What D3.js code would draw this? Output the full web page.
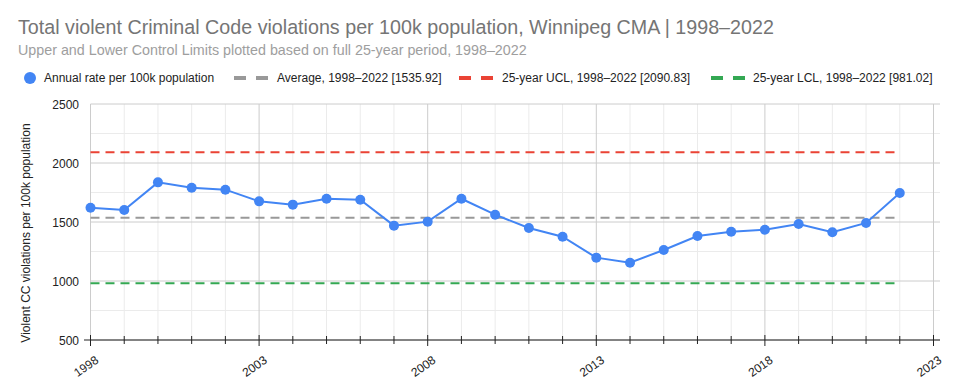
<!DOCTYPE html>
<html><head><meta charset="utf-8">
<script src="https://cdn.jsdelivr.net/npm/d3@7"></script>
<style>body{margin:0;background:#fff}svg{display:block;font-family:Arial,"Liberation Sans",sans-serif}</style>
</head><body><svg id="c" width="960" height="390"></svg>
<script>
const years = [1998,1999,2000,2001,2002,2003,2004,2005,2006,2007,2008,2009,2010,2011,2012,2013,2014,2015,2016,2017,2018,2019,2020,2021,2022];
const rates = [1621,1602,1836,1791,1774,1675,1647,1697,1689,1469,1503,1697,1562,1449,1375,1198,1155,1263,1381,1418,1435,1483,1413,1492,1746];
const average = 1535.92, ucl = 2090.83, lcl = 981.02;
const yTicks = [500,1000,1500,2000,2500];
const yMinor = [750,1250,1750,2250];
const xTickLabels = [1998,2003,2008,2013,2018,2023];
const legendLabels = ["Annual rate per 100k population","Average, 1998–2022 [1535.92]","25-year UCL, 1998–2022 [2090.83]","25-year LCL, 1998–2022 [981.02]"];

const svg = d3.select("#c");
const L = 90.5, R = 933.5, RG = 940, T = 104, B = 340;
const x = d3.scaleLinear().domain([1998,2023]).range([L,R]);
const y = d3.scaleLinear().domain([500,2500]).range([B,T]);

svg.append("text").attr("x",18).attr("y",34).attr("font-size",19.7).attr("fill","#757575")
  .text("Total violent Criminal Code violations per 100k population, Winnipeg CMA | 1998–2022");
svg.append("text").attr("x",18).attr("y",55).attr("font-size",14.3).attr("fill","#9e9e9e")
  .text("Upper and Lower Control Limits plotted based on full 25-year period, 1998–2022");

// gridlines
const g = svg.append("g");
yMinor.forEach(v=>g.append("line").attr("x1",L).attr("x2",RG).attr("y1",y(v)).attr("y2",y(v)).attr("stroke","#ebebeb"));
d3.range(1998,2024).forEach(v=>g.append("line").attr("x1",x(v)).attr("x2",x(v)).attr("y1",T).attr("y2",B)
  .attr("stroke",(v-1998)%5===0?"#cccccc":"#ebebeb"));
yTicks.forEach(v=>g.append("line").attr("x1",L).attr("x2",RG).attr("y1",y(v)).attr("y2",y(v)).attr("stroke","#cccccc"));

// y tick labels
yTicks.forEach(v=>svg.append("text").attr("x",79).attr("y",y(v)+4.5).attr("text-anchor","end")
  .attr("font-size",12).attr("fill","#222").text(v));
svg.append("text").attr("transform",`translate(30,${233}) rotate(-90)`).attr("text-anchor","middle")
  .attr("font-size",12).attr("fill","#222").text("Violent CC violations per 100k population");

// x axis
svg.append("line").attr("x1",84).attr("x2",RG).attr("y1",B).attr("y2",B).attr("stroke","#222").attr("stroke-width",1.2);
d3.range(1998,2024).forEach(v=>{
  const maj=(v-1998)%5===0;
  svg.append("line").attr("x1",x(v)).attr("x2",x(v)).attr("y1",B-(maj?5:4)).attr("y2",B+(maj?6:4)).attr("stroke","#222");
});
xTickLabels.forEach(v=>svg.append("text").attr("transform",`translate(${x(v)+4},${B+15}) rotate(-35)`)
  .attr("text-anchor","end").attr("dy","0.71em").attr("font-size",12).attr("fill","#222").text(v));

// reference lines
const refs = [[average,"#999999"],[ucl,"#EA4335"],[lcl,"#34A853"]];
refs.forEach(([v,c])=>svg.append("line").attr("x1",x(1998)).attr("x2",x(2022)).attr("y1",y(v)).attr("y2",y(v))
  .attr("stroke",c).attr("stroke-width",2).attr("stroke-dasharray","9,6"));

// data line
svg.append("path").datum(years.map((yr,i)=>[yr,rates[i]]))
  .attr("d",d3.line().x(d=>x(d[0])).y(d=>y(d[1]))).attr("fill","none").attr("stroke","#4285F4").attr("stroke-width",2);
svg.selectAll("circle.pt").data(years).enter().append("circle").attr("class","pt")
  .attr("cx",d=>x(d)).attr("cy",(d,i)=>y(rates[i])).attr("r",5).attr("fill","#4285F4");

// legend
const ly = 78;
svg.append("circle").attr("cx",30).attr("cy",ly).attr("r",6).attr("fill","#4285F4");
svg.append("text").attr("x",44).attr("y",ly+4).attr("font-size",12).attr("fill","#222").text(legendLabels[0]);
[[234,277,"#999999",1],[459,502,"#EA4335",2],[711,753,"#34A853",3]].forEach(([x0,tx,c,i])=>{
  svg.append("line").attr("x1",x0).attr("x2",x0+35).attr("y1",ly).attr("y2",ly).attr("stroke",c)
    .attr("stroke-width",4).attr("stroke-dasharray","12,10");
  svg.append("text").attr("x",tx).attr("y",ly+4).attr("font-size",12).attr("fill","#222").text(legendLabels[i]);
});
</script></body></html>
